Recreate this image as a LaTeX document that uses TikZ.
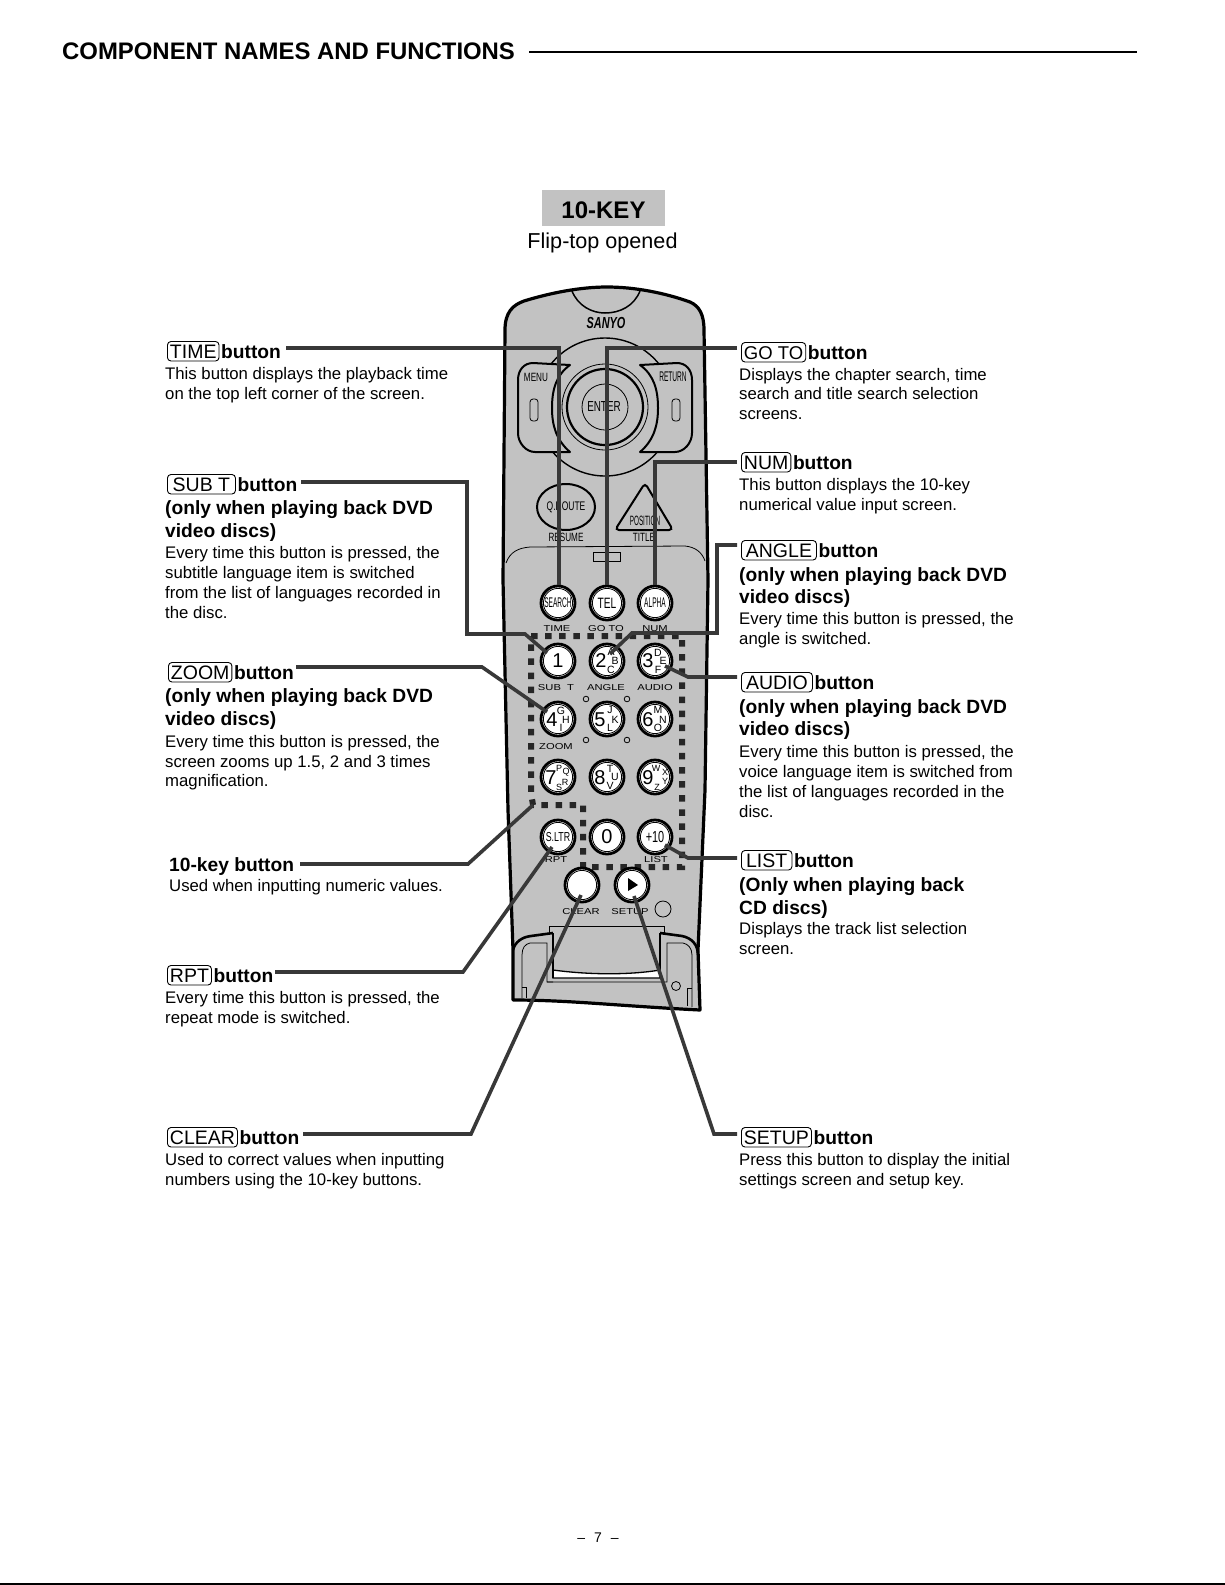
\documentclass[tikz,border=0pt]{standalone}
\usepackage{fontspec}
\setmainfont{Liberation Sans}
\newfontfamily\narrowf[FakeStretch=0.68]{Liberation Sans}
\newfontfamily\narrowerf[FakeStretch=0.47]{Liberation Sans}
\newfontfamily\widef[FakeStretch=1.3]{Liberation Sans}
\usetikzlibrary{calc}
\definecolor{bodygray}{gray}{0.76}
\definecolor{leadgray}{gray}{0.22}
\tikzset{
  txt/.style={anchor=base west,inner sep=0pt,font=\fontsize{16.75}{20}\selectfont},
  hd/.style={anchor=base west,inner sep=0pt,font=\fontsize{19.2}{22}\selectfont\bfseries},
  keycap/.style={anchor=base west,draw=black,line width=0.9pt,rounded corners=3.5pt,inner xsep=2.5pt,inner ysep=0pt,
     text height=16.5pt,text depth=3pt,font=\fontsize{19.5}{22}\selectfont},
  leader/.style={draw=leadgray,line width=3.6pt,line join=miter},
  bodyline/.style={draw=black,line width=3.2pt,line join=round},
  thinline/.style={draw=black,line width=0.8pt},
  btn/.style={circle,draw=black,fill=white,line width=2.8pt,minimum size=34pt,inner sep=0pt,
     path picture={\draw[black,line width=0.8pt] (path picture bounding box.center) circle (14.6pt);}},
  remlab/.style={inner sep=0pt,font=\widef\fontsize{8.6}{10}\selectfont},
  narrowlab/.style={inner sep=0pt,font=\narrowf\fontsize{12.5}{14}\selectfont},
  nlab/.style={inner sep=0pt,font=\narrowerf\fontsize{14}{15}\selectfont},
  ltr/.style={inner sep=0pt,font=\fontsize{10.5}{11}\selectfont},
  ltrs/.style={inner sep=0pt,font=\fontsize{9}{10}\selectfont},
  dig/.style={inner sep=0pt,font=\fontsize{20}{21}\selectfont},
}
\newcommand{\headline}[5]{% name x y key extra-options
  \node[keycap,#5] (#1k) at (#2,#3) {#4};
  \node[hd,anchor=base west] (#1b) at ($(#1k.base east)+(1.5pt,0)$) {button};
}
\begin{document}
\begin{tikzpicture}[x=1pt,y=-1pt]
\useasboundingbox (0,0) rectangle (1225,1585);
\fill[white] (0,0) rectangle (1225,1585);
% heading
\node[inner sep=0pt,anchor=base west,font=\fontsize{23.9}{28}\selectfont\bfseries] (head) at (62,59) {COMPONENT NAMES AND FUNCTIONS};
\coordinate (ruleR) at (1137,52);
\draw[black,line width=2pt] (head.east |- ruleR) ++(14,0) coordinate (ruleL) -- (ruleR);
\fill[bodygray] (542,190) rectangle (665,226);
\node[inner sep=0pt,font=\fontsize{24}{28}\selectfont\bfseries,anchor=base] (tenkey) at (603.5,218) {10-KEY};
\node[inner sep=0pt,font=\fontsize{21.6}{26}\selectfont,anchor=base] (fliptop) at (602.5,248) {Flip-top opened};
\node[inner sep=0pt,font=\fontsize{14}{16}\selectfont,anchor=base] (pagenum) at (598,1542) {--\hspace{9pt}7\hspace{9pt}--};
\draw[black,line width=1.5pt] (0,1584) -- (1225,1584);

% remote body
\path[fill=bodygray,bodyline]
  (505,330) .. controls (505,312) and (513,305) .. (524,301)
  .. controls (550,293) and (580,287) .. (607,287)
  .. controls (635,287) and (665,293) .. (690,302)
  .. controls (699,306) and (704,314) .. (704,330)
  -- (708,580) -- (705,790) -- (698,950) -- (700,1010)
  .. controls (660,1008) and (620,1005) .. (590,1003)
  .. controls (560,1001) and (535,1000) .. (513,1000)
  -- (513,950) -- (508,810) -- (503,580) -- cycle;
\draw[thinline,line width=1.5pt] (572,291) .. controls (578,306) and (592,313) .. (605,313) .. controls (620,313) and (634,306) .. (640,291);
\node[inner sep=0pt,font=\narrowf\fontsize{16}{18}\selectfont\bfseries\itshape] (sanyo) at (606,323) {SANYO};
% control ring
\draw[black,line width=1.4pt] (605,407) circle (69);
\path[fill=bodygray,draw=black,line width=2pt,line join=round]
  (570,365) -- (533,363) .. controls (524,363) and (518,370) .. (518,380) -- (518,433)
  .. controls (518,443) and (526,452) .. (535,452) -- (570,452)
  .. controls (556,440) and (552,425) .. (552,408) .. controls (552,390) and (556,375) .. (570,365) -- cycle;
\path[fill=bodygray,draw=black,line width=2pt,line join=round]
  (640,365) -- (677,363) .. controls (686,363) and (692,370) .. (692,380) -- (692,433)
  .. controls (692,443) and (684,452) .. (675,452) -- (640,452)
  .. controls (654,440) and (658,425) .. (658,408) .. controls (658,390) and (654,375) .. (640,365) -- cycle;
\draw[thinline,fill=bodygray,rounded corners=3pt] (530,399) rectangle (538,421);
\draw[thinline,fill=bodygray,rounded corners=3pt] (672,399) rectangle (680,421);
\draw[thinline] (605,407) circle (43);
\draw[black,line width=2.2pt] (605,407) circle (38);
\draw[thinline] (605,407) circle (23);
\node[narrowlab,font=\narrowf\fontsize{12}{14}\selectfont] (menu) at (536,377) {MENU};
\node[nlab] (return) at (673,377) {RETURN};
\node[narrowlab,font=\narrowf\fontsize{14.5}{15}\selectfont] (enter) at (604,407) {ENTER};
% Q.ROUTE, POSITION
\draw[black,line width=2pt] (566,507) ellipse (29 and 23);
\node[narrowlab] (qroute) at (566,507) {Q.ROUTE};
\draw[black,line width=2pt,rounded corners=4pt] (645,483) -- (673,530) -- (615,530) -- cycle;
\node[nlab,font=\narrowerf\fontsize{13.5}{14}\selectfont] (position) at (645,521) {POSITION};
\node[narrowlab,font=\narrowf\fontsize{12}{13}\selectfont] (resume) at (566,537) {RESUME};
\node[narrowlab,font=\narrowf\fontsize{12}{13}\selectfont] (title) at (644,537) {TITLE};
% flip edge
\draw[thinline] (506,563) .. controls (510,552) and (518,548) .. (530,547) -- (685,546) .. controls (695,547) and (702,552) .. (705,561);
\draw[thinline] (593,552) rectangle (620,561);
% flip-top bottom
\draw[thinline] (549,933) -- (549,926) -- (664,926) -- (664,933);
\draw[thinline] (553,982) -- (547,982) -- (547,943) -- (530,943) .. controls (525,944) and (522,948) .. (522,955) -- (522,998);
\draw[thinline] (547,982) -- (667,982) -- (667,943) -- (683,943) .. controls (688,944) and (692,948) .. (692,955) -- (692,1007);
\draw[thinline] (522,987) -- (526,987) -- (526,998);
\draw[thinline] (692,988) -- (687,988) -- (687,1006);
\path[fill=white,draw=black,line width=1.3pt] (553,970) .. controls (590,975) and (630,975) .. (660,970) -- (660,978) -- (553,978) -- cycle;
\draw[black,line width=2pt] (553,933) -- (553,978) (660,933) -- (660,978);
\draw[bodyline,line width=2.6pt] (513,950) .. controls (515,942) and (522,937) .. (531,936) -- (553,933);
\draw[bodyline,line width=2.6pt] (660,933) -- (682,936) .. controls (692,938) and (698,945) .. (698,955);
\draw[thinline] (676,986) circle (4.5);
\draw[thinline] (663,909) circle (8);
% small dots
\foreach \px/\py in {586/699,627/699,586/740,627/740}{\draw[thinline] (\px,\py) circle (2.8);}
% dotted frame
\draw[draw=black!85,line width=6pt,dash pattern=on 6.5pt off 7.6pt]
  (531,636) -- (682,636) -- (682,867) -- (583,867) -- (583,805) -- (533,805) -- (531,793) -- cycle;
% top row
\node[btn] (search) at (558,603) {};
\node[nlab] (searcht) at (558,603) {SEARCH};
\node[btn] (tel) at (607,603) {};
\node[inner sep=0pt,font=\narrowf\fontsize{15}{16}\selectfont] (telt) at (607,603) {TEL};
\node[btn] (alpha) at (655,603) {};
\node[nlab] (alphat) at (655,603) {ALPHA};
% number keys
\node[btn] (k1) at (558,661) {}; \node[dig] (d1) at (558,661) {1};
\node[btn] (k2) at (607,661) {}; \node[dig] (d2) at (601,661) {2};
\node[ltr] (l2a) at (611,652) {A}; \node[ltr] (l2b) at (615,661) {B}; \node[ltr] (l2c) at (611,670) {C};
\node[btn] (k3) at (655,661) {}; \node[dig] (d3) at (648,661) {3};
\node[ltr] (l3a) at (658,653) {D}; \node[ltr] (l3b) at (663,661) {E}; \node[ltr] (l3c) at (658,670) {F};
\node[btn] (k4) at (558,719) {}; \node[dig] (d4) at (552,720) {4};
\node[ltr] (l4a) at (561,711) {G}; \node[ltr] (l4b) at (566,720) {H}; \node[ltr] (l4c) at (561,728) {I};
\node[btn] (k5) at (607,719) {}; \node[dig] (d5) at (600,720) {5};
\node[ltr] (l5a) at (610,710) {J}; \node[ltr] (l5b) at (615,720) {K}; \node[ltr] (l5c) at (610,728) {L};
\node[btn] (k6) at (655,719) {}; \node[dig] (d6) at (648,720) {6};
\node[ltr] (l6a) at (658,710) {M}; \node[ltr] (l6b) at (663,720) {N}; \node[ltr] (l6c) at (658,728) {O};
\node[btn] (k7) at (558,777) {}; \node[dig] (d7) at (551,778) {7};
\node[ltrs] (l7a) at (559,768) {P}; \node[ltrs] (l7b) at (566,772) {Q}; \node[ltrs] (l7c) at (565,782) {R}; \node[ltrs] (l7d) at (559,787) {S};
\node[btn] (k8) at (607,777) {}; \node[dig] (d8) at (600,778) {8};
\node[ltr] (l8a) at (610,769) {T}; \node[ltr] (l8b) at (615,777) {U}; \node[ltr] (l8c) at (610,786) {V};
\node[btn] (k9) at (655,777) {}; \node[dig] (d9) at (648,778) {9};
\node[ltrs] (l9a) at (656,768) {W}; \node[ltrs] (l9b) at (665,772) {X}; \node[ltrs] (l9c) at (665,781) {Y}; \node[ltrs] (l9d) at (657,787) {Z};
\node[btn] (sltr) at (558,837) {};
\node[narrowlab,font=\narrowf\fontsize{13}{14}\selectfont] (sltrt) at (558,837) {S.LTR};
\node[btn] (k0) at (607,837) {}; \node[dig] (d0) at (607,837) {0};
\node[btn] (plus) at (655,837) {};
\node[inner sep=0pt,font=\narrowf\fontsize{16}{17}\selectfont] (plust) at (655,837) {+10};
\node[btn] (clear) at (582,885) {};
\node[btn] (setup) at (632,885) {};
\fill[black] (628,878) -- (638,885) -- (628,891) -- cycle;
% remote labels
\node[remlab] (rtime) at (557,629) {TIME};
\node[remlab] (rgoto) at (606,629) {GO TO};
\node[remlab] (rnum) at (655,629) {NUM};
\node[remlab] (rsub) at (556,688) {SUB\ \ T};
\node[remlab] (rangle) at (606,688) {ANGLE};
\node[remlab] (raudio) at (655,688) {AUDIO};
\node[remlab] (rzoom) at (556,747) {ZOOM};
\node[remlab] (rrpt) at (556,860) {RPT};
\node[remlab] (rlist) at (656,860) {LIST};
\node[remlab] (rclear) at (581,912) {CLEAR};
\node[remlab] (rsetup) at (630,912) {SETUP};

% left texts
\headline{time}{167}{358}{TIME}{}
\node[txt] (t1) at (165,379) {This button displays the playback time};
\node[txt] (t2) at (165,399) {on the top left corner of the screen.};
\headline{subt}{167}{491}{SUB\ T}{minimum width=68pt}
\node[hd] (s1) at (165,514) {(only when playing back DVD};
\node[hd] (s2) at (165,537) {video discs)};
\node[txt] (s3) at (165,558) {Every time this button is pressed, the};
\node[txt] (s4) at (165,578) {subtitle language item is switched};
\node[txt] (s5) at (165,598) {from the list of languages recorded in};
\node[txt] (s6) at (165,618) {the disc.};
\headline{zoom}{168}{679}{ZOOM}{}
\node[hd] (z1) at (165,702) {(only when playing back DVD};
\node[hd] (z2) at (165,725) {video discs)};
\node[txt] (z3) at (165,747) {Every time this button is pressed, the};
\node[txt] (z4) at (165,767) {screen zooms up 1.5, 2 and 3 times};
\node[txt] (z5) at (165,786) {magnification.};
\node[hd] (ten1) at (169,871) {10-key button};
\node[txt] (ten2) at (169,891) {Used when inputting numeric values.};
\headline{rpt}{167}{982}{RPT}{}
\node[txt] (r1) at (165,1003) {Every time this button is pressed, the};
\node[txt] (r2) at (165,1023) {repeat mode is switched.};
\headline{clr}{167}{1144}{CLEAR}{}
\node[txt] (c1) at (165,1165) {Used to correct values when inputting};
\node[txt] (c2) at (165,1185) {numbers using the 10-key buttons.};
% right texts
\headline{goto}{741}{359}{GO TO}{font=\fontsize{18.5}{22}\selectfont}
\node[txt] (g1) at (739,380) {Displays the chapter search, time};
\node[txt] (g2) at (739,399) {search and title search selection};
\node[txt] (g3) at (739,419) {screens.};
\headline{num}{741}{469}{NUM}{}
\node[txt] (n1) at (739,490) {This button displays the 10-key};
\node[txt] (n2) at (739,510) {numerical value input screen.};
\headline{ang}{741}{557}{ANGLE}{minimum width=75pt}
\node[hd] (a1) at (739,581) {(only when playing back DVD};
\node[hd] (a2) at (739,603) {video discs)};
\node[txt] (a3) at (739,624) {Every time this button is pressed, the};
\node[txt] (a4) at (739,644) {angle is switched.};
\headline{aud}{741}{689}{AUDIO}{minimum width=71pt}
\node[hd] (u1) at (739,713) {(only when playing back DVD};
\node[hd] (u2) at (739,735) {video discs)};
\node[txt] (u3) at (739,757) {Every time this button is pressed, the};
\node[txt] (u4) at (739,777) {voice language item is switched from};
\node[txt] (u5) at (739,797) {the list of languages recorded in the};
\node[txt] (u6) at (739,817) {disc.};
\headline{lst}{741}{867}{LIST}{minimum width=50.5pt}
\node[hd] (li1) at (739,891) {(Only when playing back};
\node[hd] (li2) at (739,914) {CD discs)};
\node[txt] (li3) at (739,934) {Displays the track list selection};
\node[txt] (li4) at (739,954) {screen.};
\headline{stp}{741}{1144}{SETUP}{}
\node[txt] (st1) at (739,1165) {Press this button to display the initial};
\node[txt] (st2) at (739,1185) {settings screen and setup key.};

% leader end points
\coordinate (timeS) at (286,348);
\coordinate (timeB) at (559,348);
\coordinate (gotoS) at (737,348);
\coordinate (numS) at (737,462);
\coordinate (angS) at (737,545);
\coordinate (audS) at (737,677);
\coordinate (lstS) at (737,858);
\coordinate (stpS) at (737,1134);
\coordinate (stpT) at (634,896);
\coordinate (clrS) at (303,1134);
\coordinate (clrT) at (581,895);
\coordinate (rptS) at (275,972);
\coordinate (rptT) at (552,847);
\coordinate (tenS) at (300,864);
\coordinate (tenT) at (533,805);
\coordinate (zoomS) at (296,667);
\coordinate (zoomT) at (547,712);
\coordinate (subS) at (301,482);
\coordinate (subT) at (547,653);
\coordinate (angT) at (610,654);
\coordinate (audT) at (665,666);
\coordinate (lstT) at (665,845);
% leaders
\draw[leader] (timeS) -- (timeB) -- (timeB |- search.north);
\draw[leader] (gotoS) -- (tel.north |- gotoS) -- (tel.north);
\draw[leader] (numS) -- (alpha.north |- numS) -- (alpha.north);
\draw[leader] (angS) -- (717,545) -- (717,633) -- (632,633) -- (angT);
\draw[leader] (audS) -- (688,677) -- (audT);
\draw[leader] (lstS) -- (688,858) -- (lstT);
\draw[leader] (stpS) -- (714,1134) -- (stpT);
\draw[leader] (clrS) -- (471,1134) -- (clrT);
\draw[leader] (rptS) -- (463,972) -- (rptT);
\draw[leader] (tenS) -- (468,864) -- (tenT);
\draw[leader] (zoomS) -- (482,667) -- (zoomT);
\draw[leader] (subS) -- (467,482) -- (467,634) -- (525,634) -- (subT);
\end{tikzpicture}
\end{document}
